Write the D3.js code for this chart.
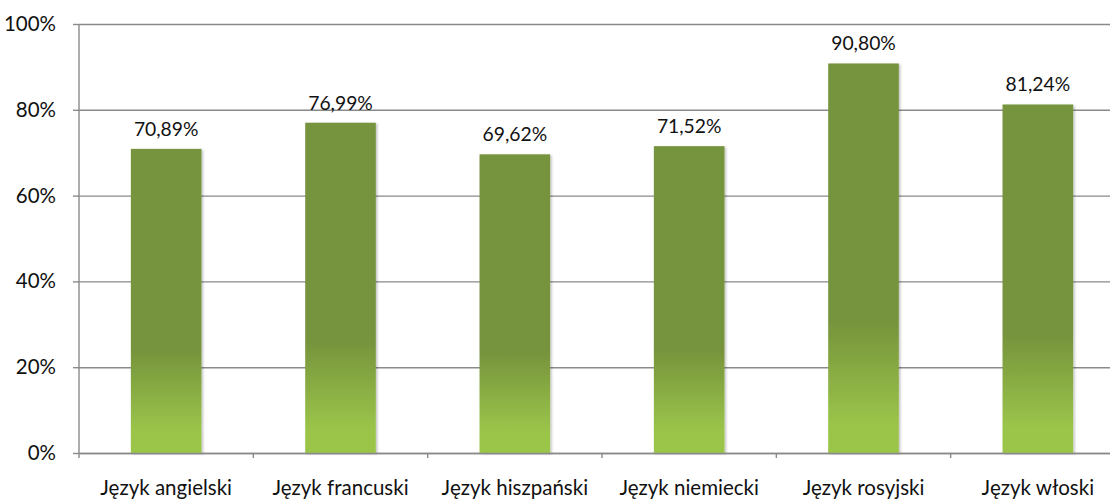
<!DOCTYPE html>
<html>
<head>
<meta charset="utf-8">
<script src="https://cdn.jsdelivr.net/npm/d3@7/dist/d3.min.js"></script>
<style>
  html, body { margin: 0; padding: 0; background: #fff; }
  svg { display: block; }
  text { font-family: Lato, "Open Sans", sans-serif; fill: #111; }
</style>
</head>
<body>
<svg id="chart" width="1110" height="499"></svg>
<script>
const categories = ["Język angielski", "Język francuski", "Język hiszpański", "Język niemiecki", "Język rosyjski", "Język włoski"];
const values = [70.89, 76.99, 69.62, 71.52, 90.80, 81.24];
const yTicks = [0, 20, 40, 60, 80, 100];

const svg = d3.select("#chart");
const margin = { left: 79, top: 24, bottom: 46 };
const plotW = 1046;
const plotH = 499 - margin.top - margin.bottom;

const x = d3.scaleBand().domain(categories).range([margin.left, margin.left + plotW]).paddingInner(0.595).paddingOuter(0.2975);
const y = d3.scaleLinear().domain([0, 100]).range([margin.top + plotH, margin.top]);

const defs = svg.append("defs");
const grad = defs.append("linearGradient").attr("id", "barGrad")
  .attr("x1", 0).attr("y1", 0).attr("x2", 0).attr("y2", 1);
grad.append("stop").attr("offset", 0).attr("stop-color", "#76933C");
grad.append("stop").attr("offset", 0.66).attr("stop-color", "#76933C");
grad.append("stop").attr("offset", 0.93).attr("stop-color", "#9BC54A");
grad.append("stop").attr("offset", 1).attr("stop-color", "#9BC54A");

const shadow = defs.append("filter").attr("id", "shadow").attr("x", "-10%").attr("y", "-5%").attr("width", "130%").attr("height", "115%");
shadow.append("feDropShadow").attr("dx", 1.5).attr("dy", 1).attr("stdDeviation", 1.2).attr("flood-color", "#000").attr("flood-opacity", 0.25);

// gridlines
const yAxis = d3.axisLeft(y).tickValues(yTicks).tickFormat(d => d + "%").tickSize(-plotW).tickPadding(23);
const gy = svg.append("g").attr("transform", `translate(${margin.left},0)`).call(yAxis);
gy.select(".domain").remove();
gy.selectAll(".tick line").attr("stroke", "#8a8a8a").attr("stroke-width", 1.4);
gy.selectAll(".tick text").attr("font-size", 20.5).attr("fill", "#111").style("font-family", "Lato, sans-serif");
// small outside tick marks on y axis
gy.selectAll(".tick").append("line").attr("x1", -6).attr("x2", 0).attr("stroke", "#8a8a8a").attr("stroke-width", 1.4);

// bars
svg.append("g").selectAll("rect").data(values).join("rect")
  .attr("x", (d, i) => x(categories[i]))
  .attr("y", d => y(d))
  .attr("width", x.bandwidth())
  .attr("height", d => y(0) - y(d))
  .attr("fill", "url(#barGrad)")
  .attr("filter", "url(#shadow)");

// y axis line
svg.append("line").attr("x1", margin.left).attr("x2", margin.left)
  .attr("y1", margin.top).attr("y2", y(0) + 5)
  .attr("stroke", "#8a8a8a").attr("stroke-width", 1.4);

// x axis
const xAxis = d3.axisBottom(x).tickSize(0).tickPadding(27);
const gx = svg.append("g").attr("transform", `translate(0,${y(0)})`).call(xAxis);
gx.select(".domain").attr("stroke", "#8a8a8a").attr("stroke-width", 1.4);
gx.selectAll(".tick text").attr("font-size", 20.5).attr("fill", "#111").style("font-family", "Lato, sans-serif");
// category boundary ticks
const step = plotW / categories.length;
svg.append("g").selectAll("line").data(d3.range(1, categories.length)).join("line")
  .attr("x1", i => margin.left + i * step).attr("x2", i => margin.left + i * step)
  .attr("y1", y(0)).attr("y2", y(0) + 5)
  .attr("stroke", "#8a8a8a").attr("stroke-width", 1.4);

// value labels
svg.append("g").selectAll("text").data(values).join("text")
  .attr("x", (d, i) => x(categories[i]) + x.bandwidth() / 2)
  .attr("y", d => y(d) - 13)
  .attr("text-anchor", "middle")
  .attr("font-size", 19.3)
  .text(d => d.toFixed(2).replace(".", ",") + "%");
</script>
</body>
</html>
